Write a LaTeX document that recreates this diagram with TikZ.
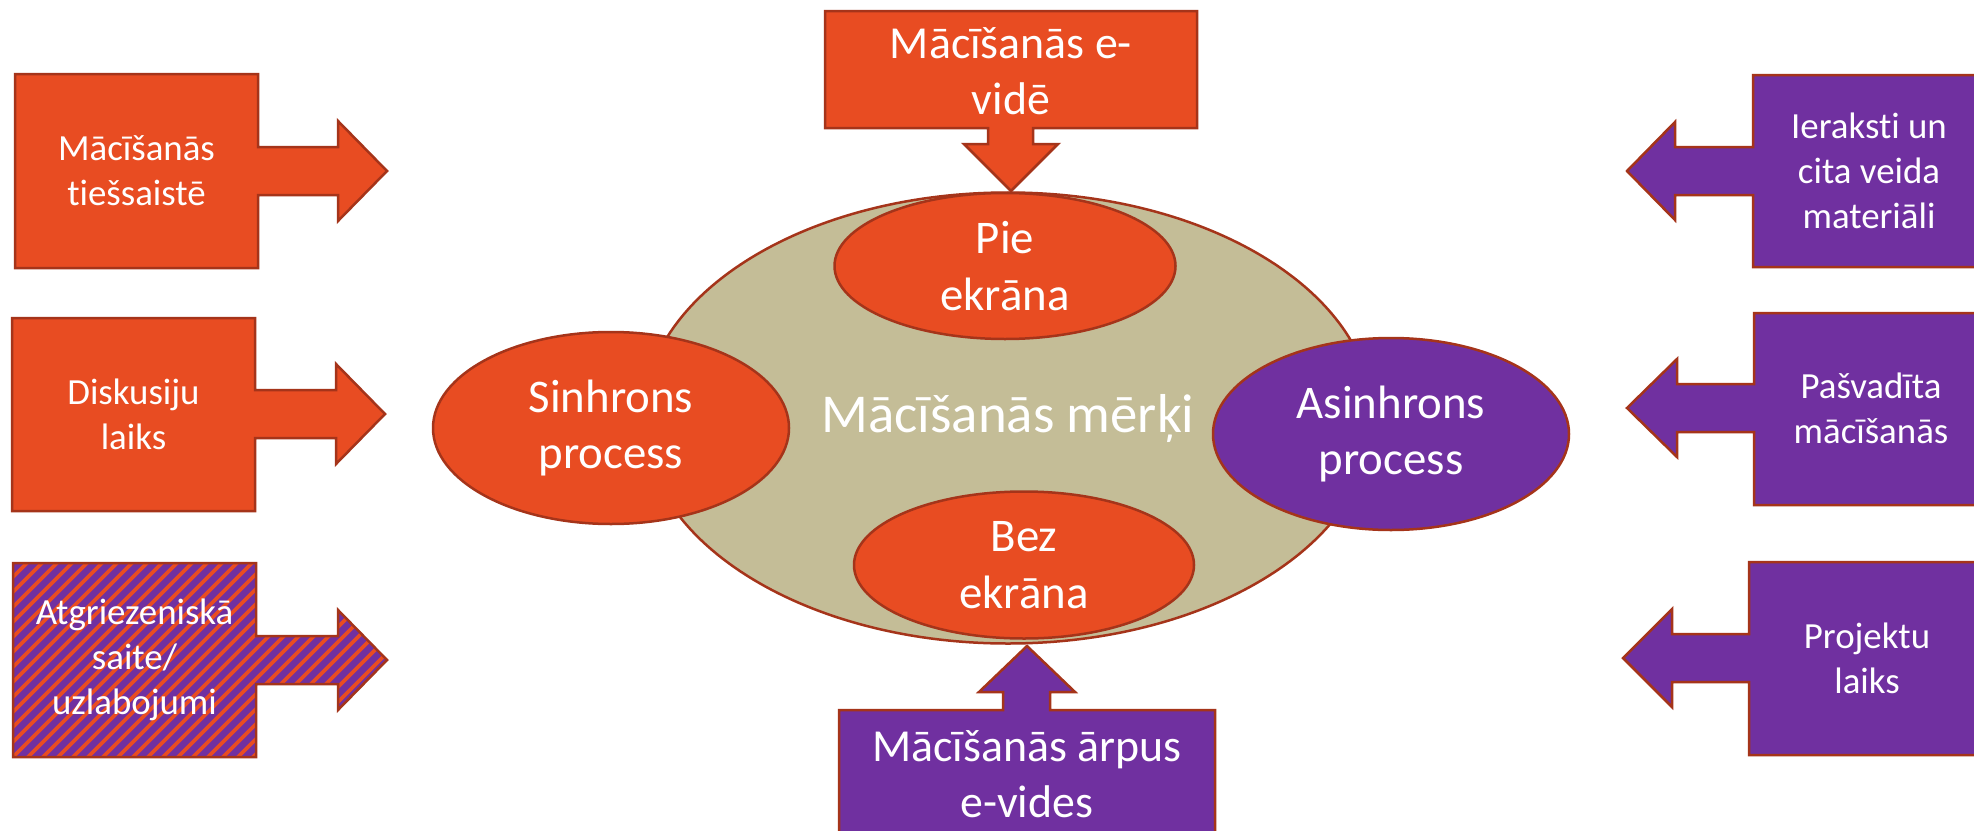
\documentclass[tikz,border=0pt]{standalone}
\usepackage{fontspec}
\setmainfont{Carlito}[Ligatures=NoCommon]
\usetikzlibrary{shapes.geometric}
\definecolor{orng}{HTML}{E84C22}
\definecolor{purp}{HTML}{7030A0}
\definecolor{tanfill}{HTML}{C4BD97}
\definecolor{brd}{HTML}{A5341A}
\begin{document}
\begin{tikzpicture}[x=1bp,y=-1bp,
  border/.style={draw=brd,line width=2.5bp,line join=miter},
  oshape/.style={border,fill=orng},
  pshape/.style={border,fill=purp},
  ell/.style={ellipse,inner sep=0pt},
  sidetext/.style={text=white,align=center,font=\fontsize{37}{45}\selectfont},
  boxtext/.style={text=white,align=center,font=\fontsize{46}{56}\selectfont},
  elltext/.style={text=white,align=center,font=\fontsize{47}{57}\selectfont},
  maintext/.style={text=white,align=center,font=\fontsize{55}{66}\selectfont},
  stripe/.style={draw=orng,line width=3.8bp}
]
\clip (0,0) rectangle (1974,831);
\fill[white] (0,0) rectangle (1974,831);

% central ellipses
\node[ell,border,fill=tanfill,minimum width=730bp,minimum height=451bp] (goal) at (1008,418) {};
\node[ell,oshape,minimum width=356bp,minimum height=192bp] (sin) at (611,428) {};
\node[ell,pshape,minimum width=356bp,minimum height=192bp] (asin) at (1391,434) {};
\node[ell,oshape,minimum width=341bp,minimum height=146bp] (pie) at (1005,266) {};
\node[ell,oshape,minimum width=340bp,minimum height=147bp] (bez) at (1024,565) {};
\node[maintext] (goaltxt) at (1008,418) {Mācīšanās mērķi};
\node[elltext] (sintxt) at (sin) {Sinhrons\\process};
\node[elltext] (asintxt) at (asin) {Asinhrons\\process};
\node[elltext] (pietxt) at (pie) {Pie\\ekrāna};
\node[elltext] (beztxt) at (bez) {Bez\\ekrāna};

% top callout
\draw[oshape] (825,11) -- (1197,11) -- (1197,128) -- (1033,128) -- (1033,144) -- (1058,144)
  -- (1011,191) -- (964,144) -- (988,144) -- (988,128) -- (825,128) -- cycle;
\node[boxtext] (toptxt) at (1011,71) {Mācīšanās e-\\vidē};

% bottom callout
\draw[pshape] (839,710) -- (1003,710) -- (1003,692) -- (979,692) -- (1027,646) -- (1075,692)
  -- (1050,692) -- (1050,710) -- (1215,710) -- (1215,850) -- (839,850) -- cycle;
\node[boxtext] (bottxt) at (1027,774) {Mācīšanās ārpus\\e-vides};

% left callouts
\draw[oshape] (15,74) -- (258,74) -- (258,147) -- (338,147) -- (338,121) -- (387,171)
  -- (338,221) -- (338,195) -- (258,195) -- (258,268) -- (15,268) -- cycle;
\node[sidetext] (l1) at (136.5,171) {Mācīšanās\\tiešsaistē};

\draw[oshape] (12,318) -- (255,318) -- (255,390) -- (336,390) -- (336,364) -- (385,414)
  -- (336,464) -- (336,438) -- (255,438) -- (255,511) -- (12,511) -- cycle;
\node[sidetext] (l2) at (133.5,414) {Diskusiju\\laiks};

\begin{scope}
  \clip (13,563) -- (256,563) -- (256,636) -- (338,636) -- (338,610) -- (387,660)
    -- (338,710) -- (338,684) -- (256,684) -- (256,757) -- (13,757) -- cycle;
  \fill[purp] (0,550) rectangle (400,770);
  \foreach \i in {-240,-225,...,420} \draw[stripe] (\i,770) -- ++(230,-230);
\end{scope}
\draw[border] (13,563) -- (256,563) -- (256,636) -- (338,636) -- (338,610) -- (387,660)
  -- (338,710) -- (338,684) -- (256,684) -- (256,757) -- (13,757) -- cycle;
\node[sidetext] (l3) at (134.5,660) {Atgriezeniskā\\saite/\\uzlabojumi};

% right callouts
\draw[pshape] (2000,75) -- (1753,75) -- (1753,147) -- (1675,147) -- (1675,122) -- (1627,171)
  -- (1675,220) -- (1675,195) -- (1753,195) -- (1753,267) -- (2000,267) -- cycle;
\node[sidetext] (r1) at (1869,171) {Ieraksti un\\cita veida\\materiāli};

\draw[pshape] (2000,313) -- (1754,313) -- (1754,384) -- (1677,384) -- (1677,359) -- (1627,408)
  -- (1677,457) -- (1677,432) -- (1754,432) -- (1754,505) -- (2000,505) -- cycle;
\node[sidetext] (r2) at (1871,408) {Pašvadīta\\mācīšanās};

\draw[pshape] (2000,562) -- (1749,562) -- (1749,634) -- (1672,634) -- (1672,609) -- (1623,658)
  -- (1672,707) -- (1672,682) -- (1749,682) -- (1749,755) -- (2000,755) -- cycle;
\node[sidetext] (r3) at (1867,658) {Projektu\\laiks};
\end{tikzpicture}
\end{document}
